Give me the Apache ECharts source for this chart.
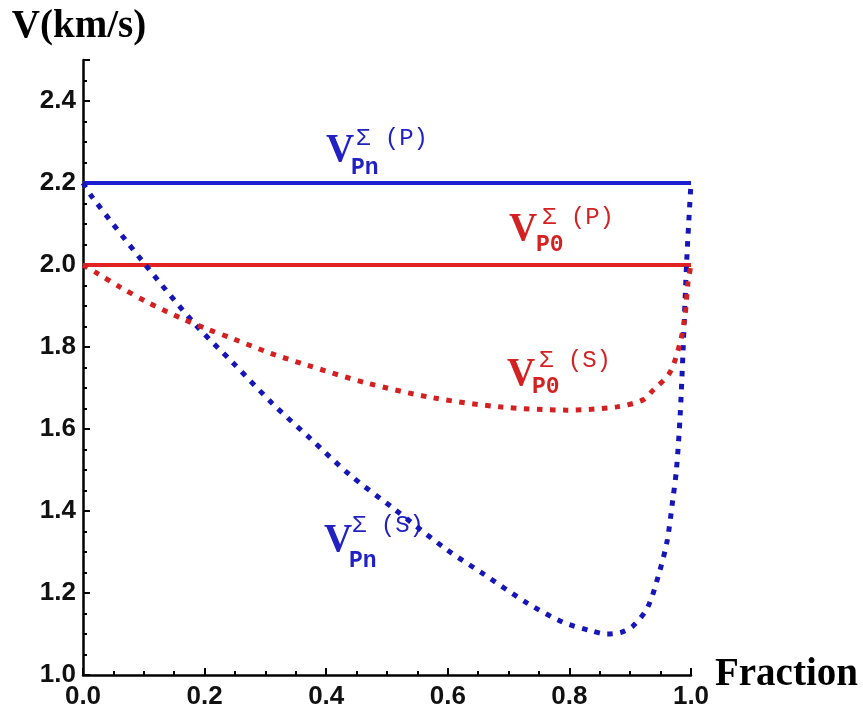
<!DOCTYPE html>
<html>
<head>
<meta charset="utf-8">
<script src="https://cdn.jsdelivr.net/npm/echarts@6/dist/echarts.min.js"></script>
<style>html,body{margin:0;padding:0;background:#fff}#c{width:863px;height:710px}</style>
</head>
<body>
<div id="c"></div>
<script>
// ---- data ----
const xTicks = [0.0, 0.2, 0.4, 0.6, 0.8, 1.0];
const yTicks = [1.0, 1.2, 1.4, 1.6, 1.8, 2.0, 2.2, 2.4];

const pnP_x = [0, 1];
const pnP_y = [2.2, 2.2];
const p0P_x = [0, 1];
const p0P_y = [2.0, 2.0];

const pnS_x = [0, 0.015, 0.099, 0.184, 0.247, 0.311, 0.373, 0.439, 0.510, 0.599, 0.656, 0.730, 0.789, 0.835, 0.862, 0.885, 0.905, 0.929, 0.949, 0.961, 0.970, 0.976, 0.982, 0.987, 0.993, 1.0];
const pnS_y = [2.2, 2.166, 2.007, 1.856, 1.761, 1.663, 1.578, 1.488, 1.407, 1.305, 1.249, 1.176, 1.129, 1.108, 1.100, 1.104, 1.120, 1.166, 1.256, 1.329, 1.427, 1.50, 1.629, 1.793, 2.012, 2.2];

const p0S_x = [0, 0.023, 0.061, 0.105, 0.160, 0.204, 0.247, 0.308, 0.368, 0.467, 0.576, 0.686, 0.796, 0.878, 0.921, 0.938, 0.965, 0.982, 0.990, 0.995, 1.0];
const p0S_y = [2.0, 1.980, 1.946, 1.910, 1.871, 1.844, 1.820, 1.785, 1.756, 1.712, 1.676, 1.654, 1.646, 1.654, 1.671, 1.695, 1.737, 1.810, 1.873, 1.956, 2.0];

const labels = [
  {sup: 'Σ (P)', sub: 'Pn', color: '#2222c4'},
  {sup: 'Σ (P)', sub: 'P0', color: '#d42222'},
  {sup: 'Σ (S)', sub: 'P0', color: '#d42222'},
  {sup: 'Σ (S)', sub: 'Pn', color: '#2222c4'}
];

const BLUE = '#1c1cd0';
const RED = '#e02222';

function pairs(xs, ys) { return xs.map((x, i) => [x, ys[i]]); }

const chart = echarts.init(document.getElementById('c'), null, {renderer: 'canvas'});

const tickFont = {fontFamily: 'Liberation Sans', fontWeight: 'bold', fontSize: 26, color: '#111'};
const nameFont = {fontFamily: 'Liberation Serif', fontWeight: 'bold', fontSize: 39, color: '#000'};

// label anchor positions (pixels): V left/center, superscript, subscript
const labelPos = [
  {vx: 326, vy: 151, supx: 356, supy: 139, subx: 351, suby: 168},
  {vx: 509, vy: 230, supx: 542, supy: 218, subx: 536, suby: 245},
  {vx: 507, vy: 375, supx: 539, supy: 361, subx: 532, suby: 387},
  {vx: 324, vy: 541, supx: 352, supy: 526, subx: 349, suby: 561}
];

const graphics = [];
labels.forEach((l, i) => {
  const p = labelPos[i];
  graphics.push({type: 'text', x: p.vx, y: p.vy, style: {text: 'V', font: 'bold 39px "Liberation Serif"', fill: l.color, verticalAlign: 'middle', align: 'left'}});
  graphics.push({type: 'text', x: p.supx, y: p.supy, style: {text: l.sup, font: '24px "Liberation Mono"', fill: l.color, verticalAlign: 'middle', align: 'left'}});
  graphics.push({type: 'text', x: p.subx, y: p.suby, style: {text: l.sub, font: 'bold 23px "Liberation Mono"', fill: l.color, verticalAlign: 'middle', align: 'left'}});
});

const axisLine = {show: true, onZero: false, lineStyle: {color: '#000', width: 2.5}};

chart.setOption({
  animation: false,
  backgroundColor: '#fff',
  grid: {left: 83, right: 172, top: 60, bottom: 35, containLabel: false},
  xAxis: {
    type: 'value', min: 0, max: 1.0, interval: 0.2,
    name: 'Fraction', nameLocation: 'end', nameGap: 18,
    nameTextStyle: Object.assign({}, nameFont, {verticalAlign: 'middle', padding: [0, 0, 6, 0]}),
    axisLine: axisLine,
    axisTick: {show: true, inside: true, length: 7, lineStyle: {color: '#000', width: 2}},
    minorTick: {show: true, splitNumber: 4, length: 4, lineStyle: {color: '#000', width: 2}},
    splitLine: {show: false},
    axisLabel: Object.assign({}, tickFont, {margin: 9, formatter: v => v.toFixed(1)})
  },
  yAxis: {
    type: 'value', min: 1.0, max: 2.5, interval: 0.2,
    name: 'V(km/s)', nameLocation: 'end', nameGap: 14,
    nameTextStyle: Object.assign({}, nameFont, {align: 'center', padding: [0, 8, 0, 0]}),
    axisLine: axisLine,
    axisTick: {show: true, inside: true, length: 7, lineStyle: {color: '#000', width: 2}},
    minorTick: {show: true, splitNumber: 4, length: 4, lineStyle: {color: '#000', width: 2}},
    splitLine: {show: false},
    axisLabel: Object.assign({}, tickFont, {margin: 7, showMaxLabel: false, formatter: v => v.toFixed(1)})
  },
  series: [
    {type: 'line', data: pairs(pnP_x, pnP_y), symbol: 'none', lineStyle: {color: BLUE, width: 4}, z: 3},
    {type: 'line', data: pairs(p0P_x, p0P_y), symbol: 'none', lineStyle: {color: RED, width: 4}, z: 3},
    {type: 'line', data: pairs(pnS_x, pnS_y), symbol: 'none', smooth: 0.3, lineStyle: {color: '#1515b8', width: 5, type: [5.5, 7.5], cap: 'butt'}, z: 4},
    {type: 'line', data: pairs(p0S_x, p0S_y), symbol: 'none', smooth: 0.3, lineStyle: {color: '#d42020', width: 5, type: [5.5, 7.5], cap: 'butt'}, z: 4}
  ],
  graphic: graphics
});
</script>
</body>
</html>
